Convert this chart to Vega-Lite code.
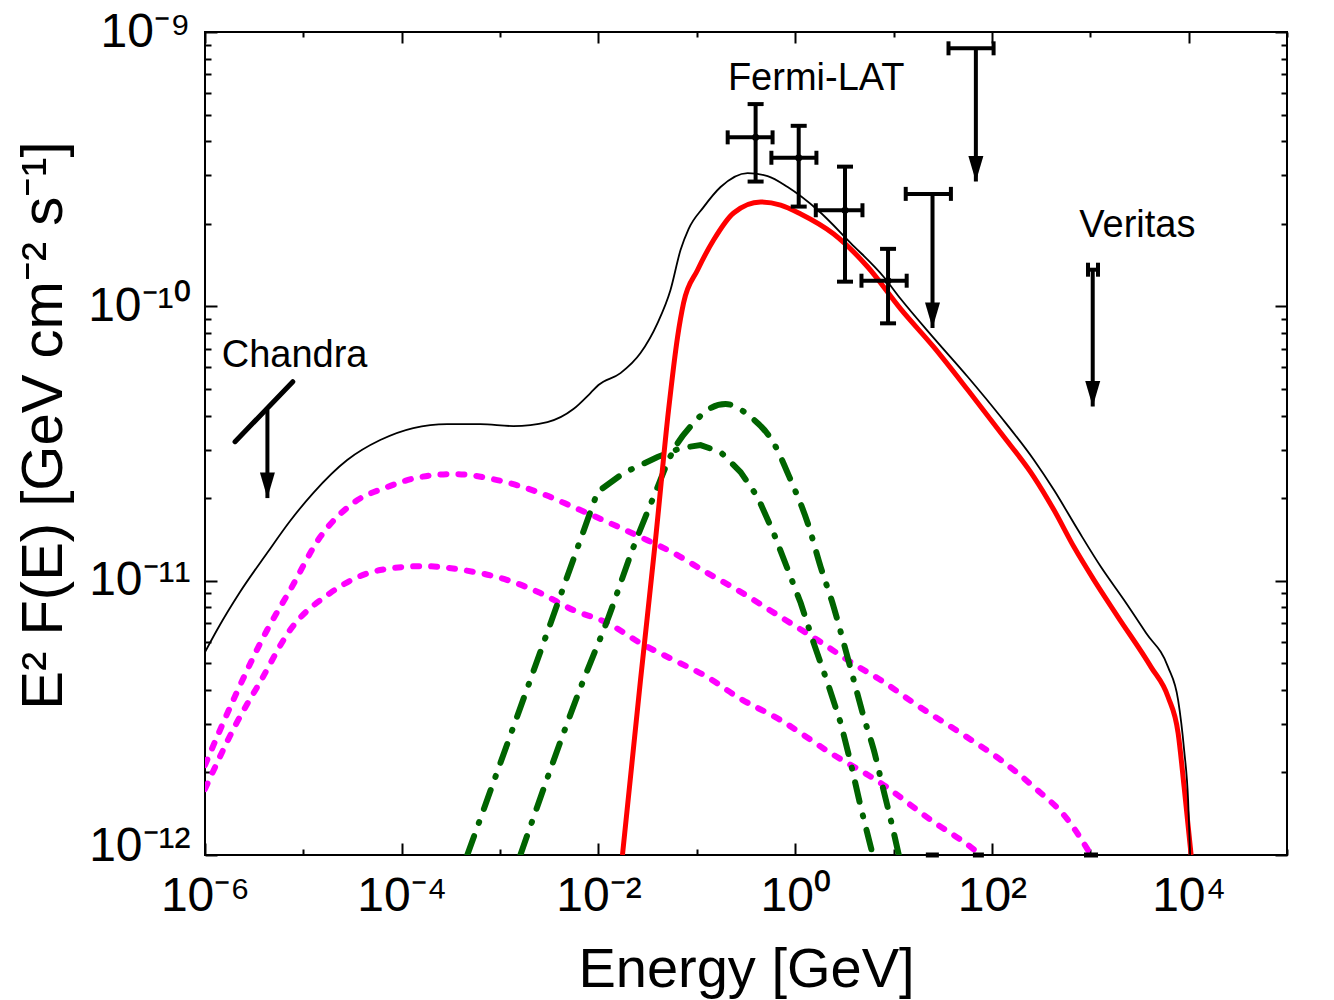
{
  "$schema": "https://vega.github.io/schema/vega-lite/v6.json",
  "width": 1082,
  "height": 823,
  "autosize": {"type": "none"},
  "padding": {"left": 205, "top": 32, "right": 47, "bottom": 145},
  "background": "white",
  "config": {
    "font": "Liberation Sans",
    "view": {"stroke": "black", "strokeWidth": 2},
    "axis": {
      "domain": false,
      "grid": false,
      "tickColor": "black",
      "tickWidth": 2,
      "labelColor": "black",
      "titleColor": "black",
      "labelFont": "Liberation Sans",
      "titleFont": "Liberation Sans",
      "titleFontWeight": "normal",
      "labelFontSize": 48,
      "titleFontSize": 56,
      "labelOverlap": false,
      "labelBound": false,
      "labelFlush": false
    }
  },
  "datasets": {
    "curves": [
      {"comp": "total", "E": 1e-6, "F": 5.49e-12},
      {"comp": "total", "E": 1.325e-6, "F": 6.61e-12},
      {"comp": "total", "E": 2.27e-6, "F": 9.09e-12},
      {"comp": "total", "E": 4.28e-6, "F": 1.261e-11},
      {"comp": "total", "E": 7.33e-6, "F": 1.65e-11},
      {"comp": "total", "E": 1.257e-5, "F": 2.086e-11},
      {"comp": "total", "E": 2.79e-5, "F": 2.753e-11},
      {"comp": "total", "E": 6.04e-5, "F": 3.256e-11},
      {"comp": "total", "E": 1.309e-4, "F": 3.6e-11},
      {"comp": "total", "E": 2.904e-4, "F": 3.723e-11},
      {"comp": "total", "E": 6.3e-4, "F": 3.723e-11},
      {"comp": "total", "E": 1.364e-3, "F": 3.661e-11},
      {"comp": "total", "E": 3.027e-3, "F": 3.786e-11},
      {"comp": "total", "E": 5.566e-3, "F": 4.223e-11},
      {"comp": "total", "E": 8.29e-3, "F": 4.83e-11},
      {"comp": "total", "E": 1.0e-2, "F": 5.165e-11},
      {"comp": "total", "E": 1.675e-2, "F": 5.71e-11},
      {"comp": "total", "E": 2.676e-2, "F": 6.757e-11},
      {"comp": "total", "E": 3.987e-2, "F": 8.69e-11},
      {"comp": "total", "E": 5.4e-2, "F": 1.147e-10},
      {"comp": "total", "E": 6.83e-2, "F": 1.604e-10},
      {"comp": "total", "E": 8.24e-2, "F": 1.913e-10},
      {"comp": "total", "E": 0.1171, "F": 2.3e-10},
      {"comp": "total", "E": 0.1744, "F": 2.722e-10},
      {"comp": "total", "E": 0.3285, "F": 3.06e-10},
      {"comp": "total", "E": 0.525, "F": 2.985e-10},
      {"comp": "total", "E": 0.839, "F": 2.722e-10},
      {"comp": "total", "E": 1.694, "F": 2.245e-10},
      {"comp": "total", "E": 3.671, "F": 1.701e-10},
      {"comp": "total", "E": 7.96, "F": 1.279e-10},
      {"comp": "total", "E": 11.85, "F": 1.063e-10},
      {"comp": "total", "E": 25.69, "F": 7.66e-11},
      {"comp": "total", "E": 56.96, "F": 5.525e-11},
      {"comp": "total", "E": 123.5, "F": 3.948e-11},
      {"comp": "total", "E": 267.6, "F": 2.753e-11},
      {"comp": "total", "E": 427.7, "F": 2.139e-11},
      {"comp": "total", "E": 750.4, "F": 1.529e-11},
      {"comp": "total", "E": 1286, "F": 1.121e-11},
      {"comp": "total", "E": 2205, "F": 8.5e-12},
      {"comp": "total", "E": 3693, "F": 6.44e-12},
      {"comp": "total", "E": 6184, "F": 4.84e-12},
      {"comp": "total", "E": 7819, "F": 3.67e-12},
      {"comp": "total", "E": 9000, "F": 2.413e-12},
      {"comp": "total", "E": 9880, "F": 1.586e-12},
      {"comp": "total", "E": 10360, "F": 1e-12},

      {"comp": "pion", "E": 1.754e-2, "F": 1e-12},
      {"comp": "pion", "E": 2.676e-2, "F": 4.34e-12},
      {"comp": "pion", "E": 3.8e-2, "F": 1.406e-11},
      {"comp": "pion", "E": 5.16e-2, "F": 4.188e-11},
      {"comp": "pion", "E": 6.37e-2, "F": 7.73e-11},
      {"comp": "pion", "E": 7.33e-2, "F": 1.028e-10},
      {"comp": "pion", "E": 0.1018, "F": 1.356e-10},
      {"comp": "pion", "E": 0.1481, "F": 1.744e-10},
      {"comp": "pion", "E": 0.2366, "F": 2.189e-10},
      {"comp": "pion", "E": 0.4455, "F": 2.4e-10},
      {"comp": "pion", "E": 0.7117, "F": 2.34e-10},
      {"comp": "pion", "E": 1.138, "F": 2.171e-10},
      {"comp": "pion", "E": 2.465, "F": 1.835e-10},
      {"comp": "pion", "E": 5.47, "F": 1.391e-10},
      {"comp": "pion", "E": 11.85, "F": 9.77e-11},
      {"comp": "pion", "E": 25.69, "F": 7.1e-11},
      {"comp": "pion", "E": 56.96, "F": 4.953e-11},
      {"comp": "pion", "E": 123.5, "F": 3.452e-11},
      {"comp": "pion", "E": 267.6, "F": 2.386e-11},
      {"comp": "pion", "E": 427.7, "F": 1.809e-11},
      {"comp": "pion", "E": 683.4, "F": 1.326e-11},
      {"comp": "pion", "E": 1092, "F": 1.005e-11},
      {"comp": "pion", "E": 1917, "F": 7.37e-12},
      {"comp": "pion", "E": 4153, "F": 4.84e-12},
      {"comp": "pion", "E": 6184, "F": 3.765e-12},
      {"comp": "pion", "E": 7819, "F": 2.782e-12},
      {"comp": "pion", "E": 9000, "F": 1.768e-12},
      {"comp": "pion", "E": 10600, "F": 1e-12},

      {"comp": "syncHigh", "E": 1e-6, "F": 2.127e-12},
      {"comp": "syncHigh", "E": 2.067e-6, "F": 3.86e-12},
      {"comp": "syncHigh", "E": 4.28e-6, "F": 6.61e-12},
      {"comp": "syncHigh", "E": 7.33e-6, "F": 9.24e-12},
      {"comp": "syncHigh", "E": 1.481e-5, "F": 1.442e-11},
      {"comp": "syncHigh", "E": 3.209e-5, "F": 1.918e-11},
      {"comp": "syncHigh", "E": 7.12e-5, "F": 2.194e-11},
      {"comp": "syncHigh", "E": 1.543e-4, "F": 2.386e-11},
      {"comp": "syncHigh", "E": 3.343e-4, "F": 2.446e-11},
      {"comp": "syncHigh", "E": 9.37e-4, "F": 2.326e-11},
      {"comp": "syncHigh", "E": 2.569e-3, "F": 2.086e-11},
      {"comp": "syncHigh", "E": 5.566e-3, "F": 1.855e-11},
      {"comp": "syncHigh", "E": 1.235e-2, "F": 1.636e-11},
      {"comp": "syncHigh", "E": 2.676e-2, "F": 1.442e-11},
      {"comp": "syncHigh", "E": 5.8e-2, "F": 1.261e-11},
      {"comp": "syncHigh", "E": 0.1286, "F": 1.066e-11},
      {"comp": "syncHigh", "E": 0.26, "F": 9.24e-12},
      {"comp": "syncHigh", "E": 0.6637, "F": 7.49e-12},
      {"comp": "syncHigh", "E": 1.694, "F": 6.07e-12},
      {"comp": "syncHigh", "E": 3.671, "F": 5.05e-12},
      {"comp": "syncHigh", "E": 7.96, "F": 4.27e-12},
      {"comp": "syncHigh", "E": 16.08, "F": 3.58e-12},
      {"comp": "syncHigh", "E": 51.9, "F": 2.735e-12},
      {"comp": "syncHigh", "E": 123.5, "F": 2.218e-12},
      {"comp": "syncHigh", "E": 267.6, "F": 1.768e-12},
      {"comp": "syncHigh", "E": 593.6, "F": 1.341e-12},
      {"comp": "syncHigh", "E": 1018, "F": 1e-12},

      {"comp": "syncLow", "E": 1e-6, "F": 1.739e-12},
      {"comp": "syncLow", "E": 2.117e-6, "F": 3.05e-12},
      {"comp": "syncLow", "E": 3.63e-6, "F": 4.27e-12},
      {"comp": "syncLow", "E": 7.33e-6, "F": 6.61e-12},
      {"comp": "syncLow", "E": 1.873e-5, "F": 9.01e-12},
      {"comp": "syncLow", "E": 6.04e-5, "F": 1.093e-11},
      {"comp": "syncLow", "E": 1.655e-4, "F": 1.13e-11},
      {"comp": "syncLow", "E": 4.225e-4, "F": 1.093e-11},
      {"comp": "syncLow", "E": 1.185e-3, "F": 1.005e-11},
      {"comp": "syncLow", "E": 2.569e-3, "F": 9.01e-12},
      {"comp": "syncLow", "E": 5.566e-3, "F": 7.81e-12},
      {"comp": "syncLow", "E": 1.235e-2, "F": 7.01e-12},
      {"comp": "syncLow", "E": 2.676e-2, "F": 5.92e-12},
      {"comp": "syncLow", "E": 5.8e-2, "F": 5.14e-12},
      {"comp": "syncLow", "E": 0.1286, "F": 4.45e-12},
      {"comp": "syncLow", "E": 0.26, "F": 3.765e-12},
      {"comp": "syncLow", "E": 0.7117, "F": 3.1e-12},
      {"comp": "syncLow", "E": 2.298, "F": 2.352e-12},
      {"comp": "syncLow", "E": 7.42, "F": 1.829e-12},
      {"comp": "syncLow", "E": 23.94, "F": 1.341e-12},
      {"comp": "syncLow", "E": 61.1, "F": 1.069e-12},
      {"comp": "syncLow", "E": 77.3, "F": 1e-12},

      {"comp": "bremsA", "E": 4.64e-4, "F": 1e-12},
      {"comp": "bremsA", "E": 2.13e-3, "F": 4.565e-12},
      {"comp": "bremsA", "E": 9.77e-3, "F": 2.104e-11},
      {"comp": "bremsA", "E": 1.796e-2, "F": 2.467e-11},
      {"comp": "bremsA", "E": 3.987e-2, "F": 2.822e-11},
      {"comp": "bremsA", "E": 6.83e-2, "F": 3.043e-11},
      {"comp": "bremsA", "E": 0.1092, "F": 3.121e-11},
      {"comp": "bremsA", "E": 0.1744, "F": 2.943e-11},
      {"comp": "bremsA", "E": 0.2788, "F": 2.488e-11},
      {"comp": "bremsA", "E": 0.4152, "F": 2.017e-11},
      {"comp": "bremsA", "E": 0.6043, "F": 1.491e-11},
      {"comp": "bremsA", "E": 0.9, "F": 1.031e-11},
      {"comp": "bremsA", "E": 1.138, "F": 8.29e-12},
      {"comp": "bremsA", "E": 1.543, "F": 5.92e-12},
      {"comp": "bremsA", "E": 2.142, "F": 4.23e-12},
      {"comp": "bremsA", "E": 2.905, "F": 3.027e-12},
      {"comp": "bremsA", "E": 3.671, "F": 2.163e-12},
      {"comp": "bremsA", "E": 4.642, "F": 1.495e-12},
      {"comp": "bremsA", "E": 6.15, "F": 1e-12},

      {"comp": "bremsB", "E": 1.608e-3, "F": 1e-12},
      {"comp": "bremsB", "E": 7.04e-3, "F": 4.34e-12},
      {"comp": "bremsB", "E": 1.235e-2, "F": 7.19e-12},
      {"comp": "bremsB", "E": 2.271e-2, "F": 1.326e-11},
      {"comp": "bremsB", "E": 3.63e-2, "F": 2.017e-11},
      {"comp": "bremsB", "E": 5.8e-2, "F": 2.993e-11},
      {"comp": "bremsB", "E": 9.27e-2, "F": 3.754e-11},
      {"comp": "bremsB", "E": 0.138, "F": 4.259e-11},
      {"comp": "bremsB", "E": 0.1962, "F": 4.404e-11},
      {"comp": "bremsB", "E": 0.3525, "F": 3.948e-11},
      {"comp": "bremsB", "E": 0.6043, "F": 3.174e-11},
      {"comp": "bremsB", "E": 0.9, "F": 2.326e-11},
      {"comp": "bremsB", "E": 1.34, "F": 1.622e-11},
      {"comp": "bremsB", "E": 1.817, "F": 1.121e-11},
      {"comp": "bremsB", "E": 2.465, "F": 8.01e-12},
      {"comp": "bremsB", "E": 3.116, "F": 5.92e-12},
      {"comp": "bremsB", "E": 3.938, "F": 4.34e-12},
      {"comp": "bremsB", "E": 4.98, "F": 3.18e-12},
      {"comp": "bremsB", "E": 6.3, "F": 2.413e-12},
      {"comp": "bremsB", "E": 7.77, "F": 1.768e-12},
      {"comp": "bremsB", "E": 9.38, "F": 1.341e-12},
      {"comp": "bremsB", "E": 11.31, "F": 1e-12}
    ],
    "fermi": [
      {"E": 0.396, "Elo": 0.206, "Ehi": 0.589, "F": 4.13e-10, "Flo": 2.85e-10, "Fhi": 5.46e-10},
      {"E": 1.086, "Elo": 0.573, "Ehi": 1.644, "F": 3.48e-10, "Flo": 2.31e-10, "Fhi": 4.55e-10},
      {"E": 3.21, "Elo": 1.62, "Ehi": 4.83, "F": 2.24e-10, "Flo": 1.23e-10, "Fhi": 3.23e-10},
      {"E": 8.79, "Elo": 4.72, "Ehi": 13.6, "F": 1.24e-10, "Flo": 8.67e-11, "Fhi": 1.62e-10}
    ],
    "limits": [
      {"inst": "Fermi-LAT", "E": 24.9, "Elo": 13.3, "Ehi": 38.3, "F": 2.57e-10, "tip": 8.33e-11},
      {"inst": "Fermi-LAT", "E": 68.7, "Elo": 36.2, "Ehi": 104, "F": 8.72e-10, "tip": 2.85e-10},
      {"inst": "Veritas", "E": 1059, "Elo": 948, "Ehi": 1199, "F": 1.36e-10, "tip": 4.31e-11},
      {"inst": "Chandra", "E": 4.31e-6, "Elo": 4.31e-6, "Ehi": 4.31e-6, "F": 4.19e-11, "tip": 2.0e-11}
    ],
    "floorMarks": [
      {"Elo": 21.3, "Ehi": 28.9, "F": 1e-12},
      {"Elo": 64.1, "Ehi": 82.9, "F": 1e-12},
      {"Elo": 863, "Ehi": 1199, "F": 1e-12}
    ],
    "chandraSlope": [
      {"E": 2.02e-6, "F": 3.21e-11},
      {"E": 7.81e-6, "F": 5.31e-11}
    ],
    "labels": [
      {"text": "Chandra", "E": 1.479e-6, "F": 6.02e-11},
      {"text": "Fermi-LAT", "E": 0.207, "F": 6.14e-10},
      {"text": "Veritas", "E": 773.6, "F": 1.794e-10}
    ]
  },
  "layer": [
    {
      "data": {"name": "curves"},
      "transform": [{"filter": "datum.comp == 'syncHigh' || datum.comp == 'syncLow'"}],
      "mark": {"type": "line", "color": "#ff00ff", "strokeWidth": 6, "strokeDash": [6, 12], "strokeCap": "round", "interpolate": "monotone", "clip": true},
      "encoding": {
        "detail": {"field": "comp"},
        "x": {
          "field": "E", "type": "quantitative",
          "scale": {"type": "log", "domain": [1e-6, 1e5], "nice": false},
          "axis": {
            "orient": "bottom",
            "title": "Energy [GeV]",
            "titlePadding": 16,
            "values": [1e-6, 1e-5, 1e-4, 1e-3, 1e-2, 1e-1, 1, 10, 100, 1000, 1e4, 1e5],
            "labelExpr": "round(log(datum.value)/LN10) == -6 ? '10⁻⁶' : round(log(datum.value)/LN10) == -4 ? '10⁻⁴' : round(log(datum.value)/LN10) == -2 ? '10⁻²' : round(log(datum.value)/LN10) == 0 ? '10⁰' : round(log(datum.value)/LN10) == 2 ? '10²' : round(log(datum.value)/LN10) == 4 ? '10⁴' : ''",
            "tickSize": {"condition": {"test": "abs(round(log(datum.value)/LN10)) % 2 == 0", "value": -12}, "value": -6},
            "labelPadding": 29
          }
        },
        "y": {
          "field": "F", "type": "quantitative",
          "scale": {"type": "log", "domain": [1e-12, 1e-9], "nice": false},
          "axis": {
            "orient": "left",
            "title": "E² F(E) [GeV cm⁻² s⁻¹]",
            "titleFontSize": 58,
            "titlePadding": 14,
            "titleY": 393,
            "values": [1e-12, 2e-12, 3e-12, 4e-12, 5e-12, 6e-12, 7e-12, 8e-12, 9e-12, 1e-11, 2e-11, 3e-11, 4e-11, 5e-11, 6e-11, 7e-11, 8e-11, 9e-11, 1e-10, 2e-10, 3e-10, 4e-10, 5e-10, 6e-10, 7e-10, 8e-10, 9e-10, 1e-9],
            "labelExpr": "abs(log(datum.value)/LN10 + 9) < 0.01 ? '10⁻⁹' : abs(log(datum.value)/LN10 + 10) < 0.01 ? '10⁻¹⁰' : abs(log(datum.value)/LN10 + 11) < 0.01 ? '10⁻¹¹' : abs(log(datum.value)/LN10 + 12) < 0.01 ? '10⁻¹²' : ''",
            "labelOffset": {"condition": {"test": "abs(log(datum.value)/LN10 + 12) < 0.01", "value": -9}, "value": 0},
            "tickSize": {"condition": {"test": "abs(log(datum.value)/LN10 - round(log(datum.value)/LN10)) < 0.01", "value": -12}, "value": -6},
            "labelPadding": 27
          }
        }
      }
    },
    {
      "data": {"name": "curves"},
      "transform": [{"filter": "datum.comp == 'bremsA'"}],
      "mark": {"type": "line", "color": "#006400", "strokeWidth": 6, "strokeDash": [20, 14, 1, 14], "strokeCap": "round", "interpolate": "linear", "clip": true},
      "encoding": {
        "x": {"field": "E", "type": "quantitative", "scale": {"type": "log", "domain": [1e-6, 1e5], "nice": false}, "axis": null},
        "y": {"field": "F", "type": "quantitative", "scale": {"type": "log", "domain": [1e-12, 1e-9], "nice": false}, "axis": null}
      }
    },
    {
      "data": {"name": "curves"},
      "transform": [{"filter": "datum.comp == 'bremsB'"}],
      "mark": {"type": "line", "color": "#006400", "strokeWidth": 6, "strokeDash": [20, 14, 1, 14], "strokeCap": "round", "interpolate": "monotone", "clip": true},
      "encoding": {
        "x": {"field": "E", "type": "quantitative", "scale": {"type": "log", "domain": [1e-6, 1e5], "nice": false}, "axis": null},
        "y": {"field": "F", "type": "quantitative", "scale": {"type": "log", "domain": [1e-12, 1e-9], "nice": false}, "axis": null}
      }
    },
    {
      "data": {"name": "curves"},
      "transform": [{"filter": "datum.comp == 'pion'"}],
      "mark": {"type": "line", "color": "#ff0000", "strokeWidth": 5, "interpolate": "monotone", "clip": true},
      "encoding": {
        "x": {"field": "E", "type": "quantitative", "scale": {"type": "log", "domain": [1e-6, 1e5], "nice": false}, "axis": null},
        "y": {"field": "F", "type": "quantitative", "scale": {"type": "log", "domain": [1e-12, 1e-9], "nice": false}, "axis": null}
      }
    },
    {
      "data": {"name": "curves"},
      "transform": [{"filter": "datum.comp == 'total'"}],
      "mark": {"type": "line", "color": "#000000", "strokeWidth": 1.8, "interpolate": "monotone", "clip": true},
      "encoding": {
        "x": {"field": "E", "type": "quantitative", "scale": {"type": "log", "domain": [1e-6, 1e5], "nice": false}, "axis": null},
        "y": {"field": "F", "type": "quantitative", "scale": {"type": "log", "domain": [1e-12, 1e-9], "nice": false}, "axis": null}
      }
    },
    {
      "data": {"name": "fermi"},
      "mark": {"type": "rule", "color": "black", "strokeWidth": 4},
      "encoding": {
        "x": {"field": "E", "type": "quantitative", "scale": {"type": "log", "domain": [1e-6, 1e5], "nice": false}, "axis": null},
        "y": {"field": "Flo", "type": "quantitative", "scale": {"type": "log", "domain": [1e-12, 1e-9], "nice": false}, "axis": null},
        "y2": {"field": "Fhi"}
      }
    },
    {
      "data": {"name": "fermi"},
      "mark": {"type": "rule", "color": "black", "strokeWidth": 4},
      "encoding": {
        "x": {"field": "Elo", "type": "quantitative", "scale": {"type": "log", "domain": [1e-6, 1e5], "nice": false}, "axis": null},
        "x2": {"field": "Ehi"},
        "y": {"field": "F", "type": "quantitative", "scale": {"type": "log", "domain": [1e-12, 1e-9], "nice": false}, "axis": null}
      }
    },
    {
      "data": {"name": "fermi"},
      "transform": [{"fold": ["Flo", "Fhi"], "as": ["end", "Fcap"]}],
      "mark": {"type": "point", "shape": "stroke", "size": 256, "color": "black", "strokeWidth": 4, "opacity": 1},
      "encoding": {
        "x": {"field": "E", "type": "quantitative", "scale": {"type": "log", "domain": [1e-6, 1e5], "nice": false}, "axis": null},
        "y": {"field": "Fcap", "type": "quantitative", "scale": {"type": "log", "domain": [1e-12, 1e-9], "nice": false}, "axis": null}
      }
    },
    {
      "data": {"name": "fermi"},
      "transform": [{"fold": ["Elo", "Ehi"], "as": ["end", "Ecap"]}],
      "mark": {"type": "point", "shape": "M0,-1L0,1", "size": 196, "color": "black", "strokeWidth": 4, "opacity": 1},
      "encoding": {
        "x": {"field": "Ecap", "type": "quantitative", "scale": {"type": "log", "domain": [1e-6, 1e5], "nice": false}, "axis": null},
        "y": {"field": "F", "type": "quantitative", "scale": {"type": "log", "domain": [1e-12, 1e-9], "nice": false}, "axis": null}
      }
    },
    {
      "data": {"name": "fermi"},
      "mark": {"type": "point", "shape": "circle", "filled": true, "size": 50, "color": "black", "opacity": 1},
      "encoding": {
        "x": {"field": "E", "type": "quantitative", "scale": {"type": "log", "domain": [1e-6, 1e5], "nice": false}, "axis": null},
        "y": {"field": "F", "type": "quantitative", "scale": {"type": "log", "domain": [1e-12, 1e-9], "nice": false}, "axis": null}
      }
    },
    {
      "data": {"name": "limits"},
      "transform": [{"filter": "datum.inst != 'Chandra'"}],
      "mark": {"type": "rule", "color": "black", "strokeWidth": 4},
      "encoding": {
        "x": {"field": "Elo", "type": "quantitative", "scale": {"type": "log", "domain": [1e-6, 1e5], "nice": false}, "axis": null},
        "x2": {"field": "Ehi"},
        "y": {"field": "F", "type": "quantitative", "scale": {"type": "log", "domain": [1e-12, 1e-9], "nice": false}, "axis": null}
      }
    },
    {
      "data": {"name": "limits"},
      "transform": [{"filter": "datum.inst != 'Chandra'"}, {"fold": ["Elo", "Ehi"], "as": ["end", "Ecap"]}],
      "mark": {"type": "point", "shape": "M0,-1L0,1", "size": 196, "color": "black", "strokeWidth": 4, "opacity": 1},
      "encoding": {
        "x": {"field": "Ecap", "type": "quantitative", "scale": {"type": "log", "domain": [1e-6, 1e5], "nice": false}, "axis": null},
        "y": {"field": "F", "type": "quantitative", "scale": {"type": "log", "domain": [1e-12, 1e-9], "nice": false}, "axis": null}
      }
    },
    {
      "data": {"name": "limits"},
      "mark": {"type": "rule", "color": "black", "strokeWidth": 4},
      "encoding": {
        "x": {"field": "E", "type": "quantitative", "scale": {"type": "log", "domain": [1e-6, 1e5], "nice": false}, "axis": null},
        "y": {"field": "F", "type": "quantitative", "scale": {"type": "log", "domain": [1e-12, 1e-9], "nice": false}, "axis": null},
        "y2": {"field": "tip"}
      }
    },
    {
      "data": {"name": "limits"},
      "mark": {"type": "point", "shape": "M-1,-3.4L1,-3.4L0,0Z", "size": 225, "filled": true, "color": "black", "opacity": 1},
      "encoding": {
        "x": {"field": "E", "type": "quantitative", "scale": {"type": "log", "domain": [1e-6, 1e5], "nice": false}, "axis": null},
        "y": {"field": "tip", "type": "quantitative", "scale": {"type": "log", "domain": [1e-12, 1e-9], "nice": false}, "axis": null}
      }
    },
    {
      "data": {"name": "floorMarks"},
      "mark": {"type": "rule", "color": "black", "strokeWidth": 5},
      "encoding": {
        "x": {"field": "Elo", "type": "quantitative", "scale": {"type": "log", "domain": [1e-6, 1e5], "nice": false}, "axis": null},
        "x2": {"field": "Ehi"},
        "y": {"field": "F", "type": "quantitative", "scale": {"type": "log", "domain": [1e-12, 1e-9], "nice": false}, "axis": null}
      }
    },
    {
      "data": {"name": "chandraSlope"},
      "mark": {"type": "line", "color": "black", "strokeWidth": 5, "strokeCap": "round"},
      "encoding": {
        "x": {"field": "E", "type": "quantitative", "scale": {"type": "log", "domain": [1e-6, 1e5], "nice": false}, "axis": null},
        "y": {"field": "F", "type": "quantitative", "scale": {"type": "log", "domain": [1e-12, 1e-9], "nice": false}, "axis": null}
      }
    },
    {
      "data": {"name": "labels"},
      "mark": {"type": "text", "align": "left", "baseline": "alphabetic", "fontSize": 38, "font": "Liberation Sans", "color": "black"},
      "encoding": {
        "text": {"field": "text"},
        "x": {
          "field": "E", "type": "quantitative",
          "scale": {"type": "log", "domain": [1e-6, 1e5], "nice": false},
          "axis": {
            "orient": "top", "title": null, "labels": false,
            "values": [1e-6, 1e-5, 1e-4, 1e-3, 1e-2, 1e-1, 1, 10, 100, 1000, 1e4, 1e5],
            "tickSize": {"condition": {"test": "abs(round(log(datum.value)/LN10)) % 2 == 0", "value": -11}, "value": -5}
          }
        },
        "y": {
          "field": "F", "type": "quantitative",
          "scale": {"type": "log", "domain": [1e-12, 1e-9], "nice": false},
          "axis": {
            "orient": "right", "title": null, "labels": false,
            "values": [1e-12, 2e-12, 3e-12, 4e-12, 5e-12, 6e-12, 7e-12, 8e-12, 9e-12, 1e-11, 2e-11, 3e-11, 4e-11, 5e-11, 6e-11, 7e-11, 8e-11, 9e-11, 1e-10, 2e-10, 3e-10, 4e-10, 5e-10, 6e-10, 7e-10, 8e-10, 9e-10, 1e-9],
            "tickSize": {"condition": {"test": "abs(log(datum.value)/LN10 - round(log(datum.value)/LN10)) < 0.01", "value": -12}, "value": -6}
          }
        }
      }
    }
  ]
}
